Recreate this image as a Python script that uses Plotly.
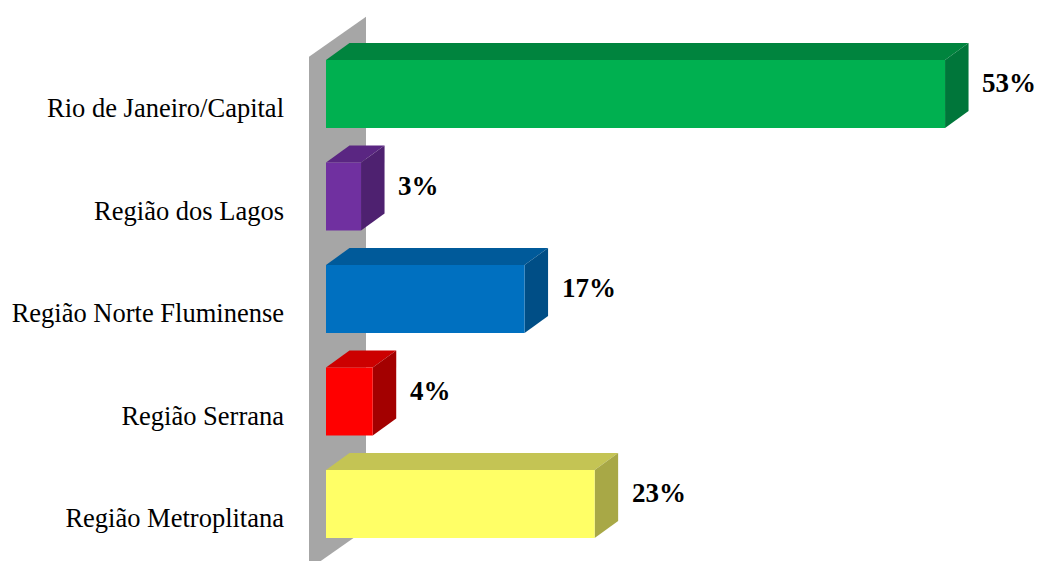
import plotly.graph_objects as go

categories = ["Rio de Janeiro/Capital", "Região dos Lagos", "Região Norte Fluminense",
              "Região Serrana", "Região Metroplitana"]
values = [53, 3, 17, 4, 23]
labels = ["53%", "3%", "17%", "4%", "23%"]
front_colors = ["#00B050", "#7030A0", "#0070C0", "#FF0000", "#FFFF66"]
top_colors = ["#00843E", "#5A2682", "#005A9A", "#CC0000", "#C4C454"]
side_colors = ["#00763A", "#4E2170", "#004E86", "#A30000", "#A8A846"]

# geometry (axis units)
PX_PER_UNIT_X = 11.68
PX_PER_UNIT_Y = 102.5
BAR_OFF = -14 / PX_PER_UNIT_Y      # bars sit slightly above category centre
BAR_H = 68 / PX_PER_UNIT_Y
DX = 23.5 / PX_PER_UNIT_X          # depth offset x
DY = -17 / PX_PER_UNIT_Y           # depth offset y (upwards)
WALL_T = 17 / PX_PER_UNIT_X
WALL_DX = 57 / PX_PER_UNIT_X
WALL_DY = -40 / PX_PER_UNIT_Y

FONT = "Liberation Serif, Times New Roman, serif"

fig = go.Figure()


def poly(xs, ys, color):
    fig.add_trace(go.Scatter(x=xs + [xs[0]], y=ys + [ys[0]], fill="toself", fillcolor=color,
                             line=dict(width=0, color=color), mode="lines",
                             hoverinfo="skip", showlegend=False))


# side wall
n = len(categories)
y_top = -0.5
y_bot = n - 0.5
poly([-WALL_T, -WALL_T + WALL_DX, -WALL_T + WALL_DX, -WALL_T],
     [y_top, y_top + WALL_DY, y_bot + WALL_DY, y_bot], "#A6A6A6")

for i, (v, fc, tc, sc) in enumerate(zip(values, front_colors, top_colors, side_colors)):
    yc = i + BAR_OFF
    y0 = yc - BAR_H / 2
    y1 = yc + BAR_H / 2
    poly([0, v, v + DX, DX], [y0, y0, y0 + DY, y0 + DY], tc)            # top face
    poly([v, v + DX, v + DX, v], [y0, y0 + DY, y1 + DY, y1], sc)        # side face
    poly([0, v, v, 0], [y0, y0, y1, y1], fc)                            # front face

# value labels
for i, (v, lab) in enumerate(zip(values, labels)):
    fig.add_annotation(x=v + DX + 1.0, y=i - 25 / PX_PER_UNIT_Y, text="<b>%s</b>" % lab,
                       showarrow=False, xanchor="left", yanchor="middle",
                       font=dict(family=FONT, size=27, color="#000000"))

L = 285
W, H = 1041, 561
x0_px = 326
xmin = (L - x0_px) / PX_PER_UNIT_X
xmax = (W - x0_px) / PX_PER_UNIT_X
c0_px = 108
ymin = (0 - c0_px) / PX_PER_UNIT_Y
ymax = (H - c0_px) / PX_PER_UNIT_Y

fig.update_layout(
    width=W, height=H,
    margin=dict(l=L, r=0, t=0, b=0, pad=0),
    plot_bgcolor="white", paper_bgcolor="white",
    xaxis=dict(range=[xmin, xmax], visible=False, fixedrange=True),
    yaxis=dict(range=[ymax, ymin], tickvals=list(range(n)), ticktext=categories,
               showgrid=False, zeroline=False, showline=False, ticks="",
               tickfont=dict(family=FONT, size=26.5, color="#000000"), fixedrange=True),
)

fig.write_html("out.html")
